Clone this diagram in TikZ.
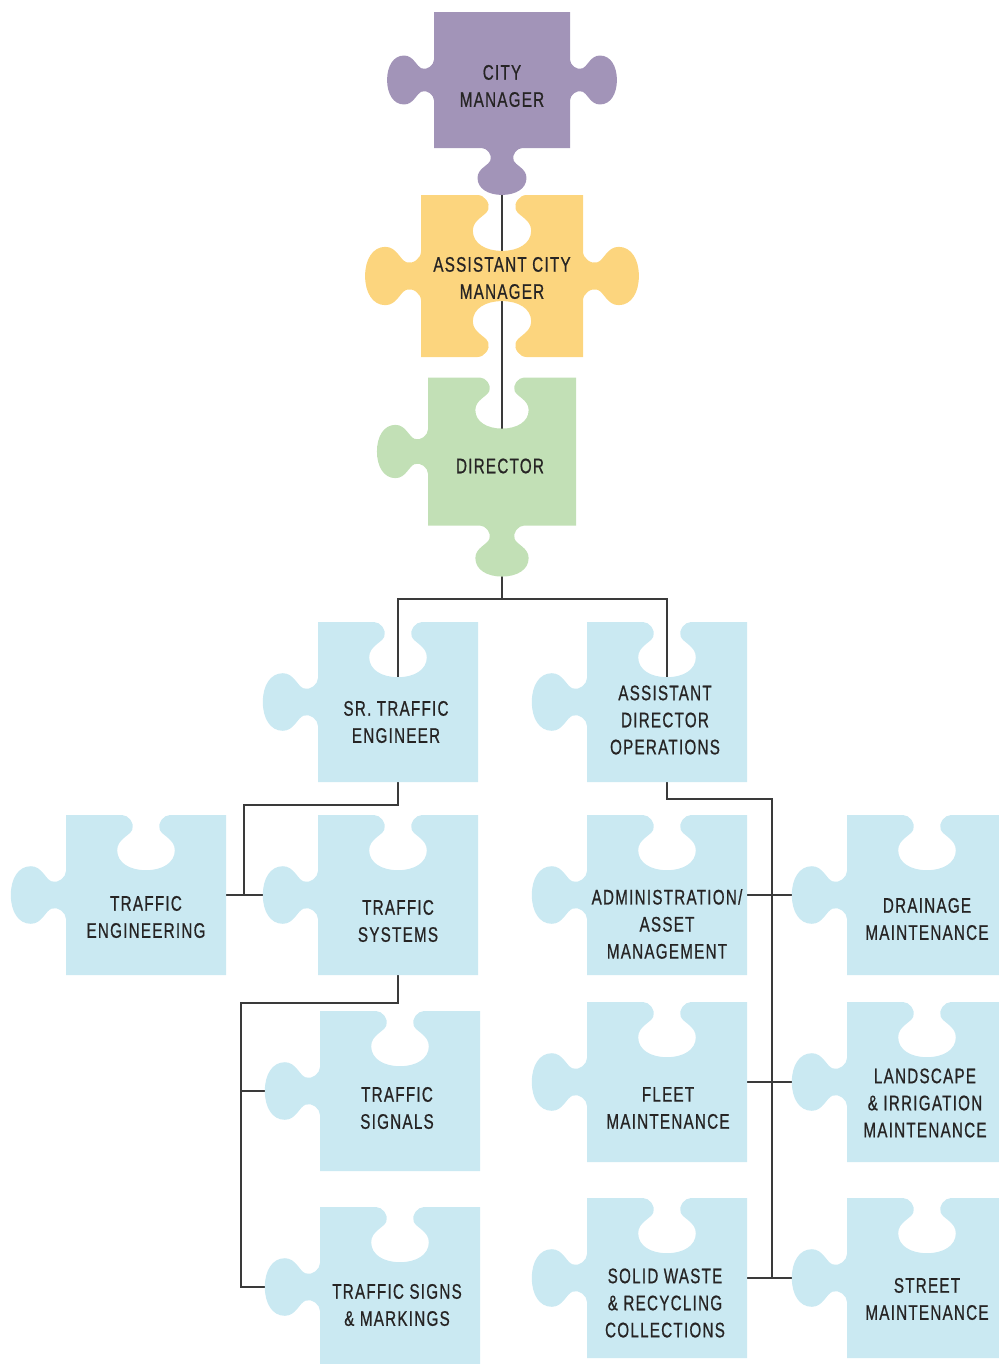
\documentclass[tikz,border=0pt]{standalone}
\usepackage{fontspec}
\setmainfont{Liberation Sans}[FakeStretch=0.72, LetterSpace=6, FakeBold=0.7]
\usepackage{xcolor}
\usepackage{tikz}
\usetikzlibrary{backgrounds}

\definecolor{cmpurple}{HTML}{A294B8}
\definecolor{acmyellow}{HTML}{FCD57E}
\definecolor{dirgreen}{HTML}{C2E0B6}
\definecolor{unitblue}{HTML}{CAE9F2}
\definecolor{linkgray}{HTML}{3A3A3A}
\definecolor{txtgray}{HTML}{262424}

% point (u,v) of a knob: mid x, mid y, tx, ty, k (1 tab, -1 hole, 0 flat), u, v
\newcommand\kc[7]{({(#1)+\pzsize*((#6)*(#3)+(#5)*(#7)*(#4))},{(#2)+\pzsize*((#6)*(#4)-(#5)*(#7)*(#3))})}
\newcommand\knobx[1]{-- #1{-0.15}{0}
  .. controls #1{-0.11}{0} and #1{-0.07}{0.05} .. #1{-0.085}{0.09}
  .. controls #1{-0.10}{0.13} and #1{-0.18}{0.15} .. #1{-0.18}{0.22}
  .. controls #1{-0.18}{0.30} and #1{-0.10}{0.345} .. #1{0}{0.345}
  .. controls #1{0.10}{0.345} and #1{0.18}{0.30} .. #1{0.18}{0.22}
  .. controls #1{0.18}{0.15} and #1{0.10}{0.13} .. #1{0.085}{0.09}
  .. controls #1{0.07}{0.05} and #1{0.11}{0} .. #1{0.15}{0}}
\newcommand\knob[5]{\expanded{\knobx{\kc{#1}{#2}{#3}{#4}{#5}}}}
% puzzle piece: name, x, y, size, top, right, bottom, left, colour
\newcommand\piece[9]{%
  \def\pzsize{#4}%
  \fill[#9] ({#2-#4/2},{#3-#4/2}) \knob{#2}{#3-#4/2}{1}{0}{#5}
    -- ({#2+#4/2},{#3-#4/2}) \knob{#2+#4/2}{#3}{0}{1}{#6}
    -- ({#2+#4/2},{#3+#4/2}) \knob{#2}{#3+#4/2}{-1}{0}{#7}
    -- ({#2-#4/2},{#3+#4/2}) \knob{#2-#4/2}{#3}{0}{-1}{#8}
    -- cycle;
  \coordinate (#1) at (#2,#3);}

\begin{document}
\begin{tikzpicture}[
    x=0.2mm, y=-0.2mm,
    lbl/.style={align=center, inner sep=0pt, text=txtgray,
                font=\fontsize{12}{15.4}\selectfont},
    link/.style={draw=linkgray, line width=0.8pt},
  ]

  \useasboundingbox (0,0) rectangle (999,1364);
  \clip (0,0) rectangle (999,1364);

  % -- Top: city manager, assistant, director
  \piece{cm}{502}{80}{136}{0}{1}{1}{1}{cmpurple}
  \piece{acm}{502}{276}{162}{-1}{1}{-1}{1}{acmyellow}
  \piece{dir}{502}{451.5}{148}{-1}{0}{1}{1}{dirgreen}

  % -- Second row
  \piece{sr}{398}{702}{160}{-1}{0}{0}{1}{unitblue}
  \piece{ado}{667}{702}{160}{-1}{0}{0}{1}{unitblue}

  % -- Traffic side
  \piece{te}{146}{895}{160}{-1}{0}{0}{1}{unitblue}
  \piece{ts}{398}{895}{160}{-1}{0}{0}{1}{unitblue}
  \piece{tsig}{400}{1091}{160}{-1}{0}{0}{1}{unitblue}
  \piece{tsm}{400}{1287}{160}{-1}{0}{0}{1}{unitblue}

  % -- Operations side
  \piece{aam}{667}{895}{160}{-1}{0}{0}{1}{unitblue}
  \piece{dm}{927}{895}{160}{-1}{0}{0}{1}{unitblue}
  \piece{fm}{667}{1082}{160}{-1}{0}{0}{1}{unitblue}
  \piece{lim}{927}{1082}{160}{-1}{0}{0}{1}{unitblue}
  \piece{sw}{667}{1278}{160}{-1}{0}{0}{1}{unitblue}
  \piece{sm}{927}{1278}{160}{-1}{0}{0}{1}{unitblue}

  % -- Connectors (behind the pieces)
  \coordinate (j1) at (502,599);
  \coordinate (j2) at (244,805);
  \coordinate (j3) at (241,1003);
  \coordinate (j4) at (772,799);
  \begin{scope}[on background layer]
    \draw[link] (cm) -- (dir) -- (j1);
    \draw[link] (sr) |- (j1) -| (ado);
    \draw[link] (sr) |- (j2) |- (ts);
    \draw[link] (te) -- (ts);
    \draw[link] (ts) |- (j3) |- (tsig);
    \draw[link] (j3) |- (tsm);
    \draw[link] (ado) |- (j4) -- (j4 |- sw);
    \draw[link] (aam) -- (dm);
    \draw[link] (fm) -- (lim);
    \draw[link] (sw) -- (sm);
  \end{scope}

  % -- Labels
  \node[lbl] (cm-t) at (502,86) {CITY\\MANAGER};
  \node[lbl] (acm-t) at (502,278) {ASSISTANT CITY\\MANAGER};
  \node[lbl] (dir-t) at (500,466) {DIRECTOR};
  \node[lbl] (sr-t) at (396,722) {SR. TRAFFIC\\ENGINEER};
  \node[lbl] (ado-t) at (665,720) {ASSISTANT\\DIRECTOR\\OPERATIONS};
  \node[lbl] (te-t) at (146,917) {TRAFFIC\\ENGINEERING};
  \node[lbl] (ts-t) at (398,921) {TRAFFIC\\SYSTEMS};
  \node[lbl] (aam-t) at (667,924) {ADMINISTRATION/\\ASSET\\MANAGEMENT};
  \node[lbl] (dm-t) at (927,919) {DRAINAGE\\MAINTENANCE};
  \node[lbl] (tsig-t) at (397,1108) {TRAFFIC\\SIGNALS};
  \node[lbl] (tsm-t) at (397,1305) {TRAFFIC SIGNS\\\& MARKINGS};
  \node[lbl] (fm-t) at (668,1108) {FLEET\\MAINTENANCE};
  \node[lbl] (lim-t) at (925,1103) {LANDSCAPE\\\& IRRIGATION\\MAINTENANCE};
  \node[lbl] (sw-t) at (665,1303) {SOLID WASTE\\\& RECYCLING\\COLLECTIONS};
  \node[lbl] (sm-t) at (927,1299) {STREET\\MAINTENANCE};

\end{tikzpicture}
\end{document}
